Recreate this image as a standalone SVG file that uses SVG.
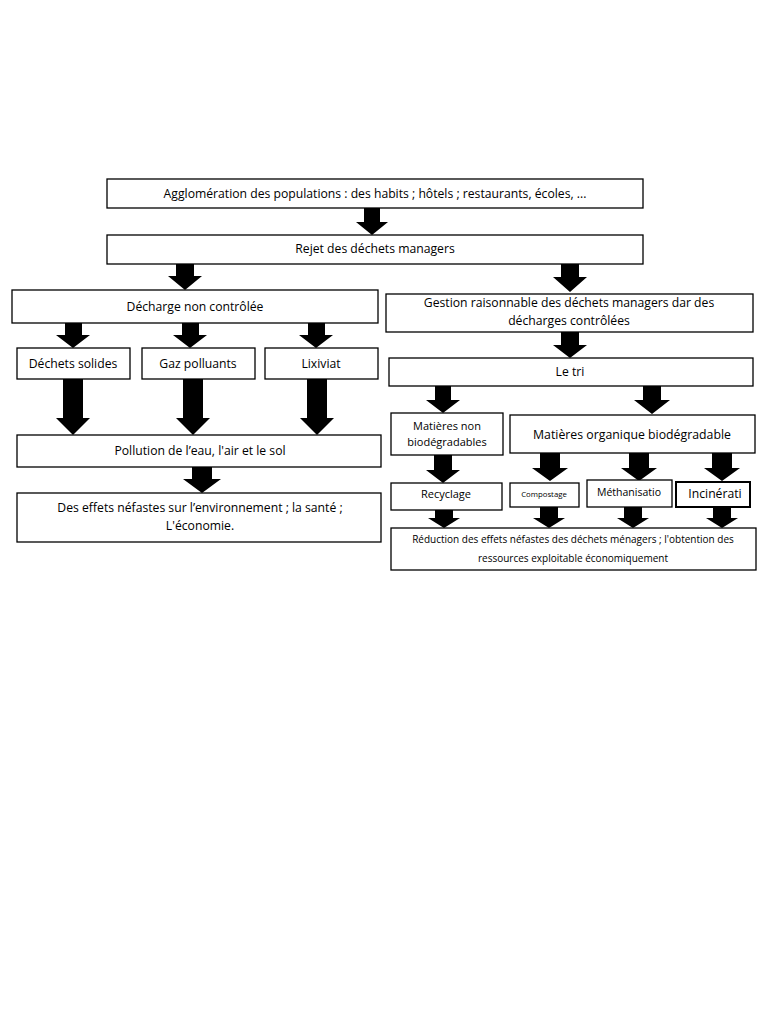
<svg xmlns="http://www.w3.org/2000/svg" width="768" height="1024" viewBox="0 0 768 1024">
<style>
.box{fill:#fff;stroke:#000;stroke-width:1.3}
.thick{stroke-width:2}
.arr{fill:#000;stroke:none}
text{font-family:"Open Sans","Liberation Sans",sans-serif;font-size:12.2px;fill:#000;text-anchor:middle}
</style>
<rect width="768" height="1024" fill="#fff"/>
<g id="connectors">
<polygon class="arr" points="364,208 380,208 380,222 388,222 372,235 356,222 364,222"/>
<polygon class="arr" points="176,264 194,264 194,276 202,276 185,290 168,276 176,276"/>
<polygon class="arr" points="561,264 579,264 579,277 587,277 570,292 553,277 561,277"/>
<polygon class="arr" points="561,332 579,332 579,345 587,345 570,358 553,345 561,345"/>
<polygon class="arr" points="65,323 82,323 82,335 90,335 73,348 56,335 65,335"/>
<polygon class="arr" points="182,323 199,323 199,335 207,335 190,348 173,335 182,335"/>
<polygon class="arr" points="308,323 325,323 325,335 333,335 316,348 299,335 308,335"/>
<polygon class="arr" points="63,378 83,378 83,418 90,418 73,435 56,418 63,418"/>
<polygon class="arr" points="183,378 203,378 203,418 210,418 193,435 176,418 183,418"/>
<polygon class="arr" points="307,378 327,378 327,418 334,418 317,435 300,418 307,418"/>
<polygon class="arr" points="192,467 212,467 212,479 221,479 202,493 183,479 192,479"/>
<polygon class="arr" points="435,386 451,386 451,400 460,400 443,413 426,400 435,400"/>
<polygon class="arr" points="643,386 661,386 661,400 670,400 652,414 634,400 643,400"/>
<polygon class="arr" points="434,455 452,455 452,470 460,470 443,483 426,470 434,470"/>
<polygon class="arr" points="540,453 560,453 560,468 568,468 550,481 532,468 540,468"/>
<polygon class="arr" points="629,453 649,453 649,468 657,468 639,481 621,468 629,468"/>
<polygon class="arr" points="712,453 732,453 732,468 740,468 722,481 704,468 712,468"/>
<polygon class="arr" points="435,509 453,509 453,518 460,518 444,528 428,518 435,518"/>
<polygon class="arr" points="540,507 558,507 558,518 565,518 549,528 533,518 540,518"/>
<polygon class="arr" points="624,507 642,507 642,518 649,518 633,528 617,518 624,518"/>
<polygon class="arr" points="713,507 731,507 731,518 738,518 722,528 706,518 713,518"/>
</g>
<g id="n1"><rect class="box" x="107" y="179" width="536" height="29"/><text x="375" y="198">Agglomération des populations : des habits ; hôtels ; restaurants, écoles, ...</text></g>
<g id="n2"><rect class="box" x="107" y="235" width="536" height="29"/><text x="375" y="253">Rejet des déchets managers</text></g>
<g id="n3"><rect class="box" x="12" y="290" width="366" height="33"/><text x="195" y="311">Décharge non contrôlée</text></g>
<g id="n4"><rect class="box" x="386" y="294" width="367" height="38"/><text x="569" y="307">Gestion raisonnable des déchets managers dar des</text><text x="569" y="325">décharges contrôlées</text></g>
<g id="n5"><rect class="box" x="17" y="348" width="113" height="31"/><text x="73" y="368">Déchets solides</text></g>
<g id="n6"><rect class="box" x="142" y="348" width="113" height="31"/><text x="198" y="368">Gaz polluants</text></g>
<g id="n7"><rect class="box" x="265" y="348" width="113" height="31"/><text x="321" y="368">Lixiviat</text></g>
<g id="n8"><rect class="box" x="389" y="358" width="364" height="28"/><text x="570" y="376">Le tri</text></g>
<g id="n9"><rect class="box" x="17" y="435" width="364" height="32"/><text x="200" y="455">Pollution de l’eau, l'air et le sol</text></g>
<g id="n10"><rect class="box" x="17" y="493" width="364" height="49"/><text x="200" y="512">Des effets néfastes sur l’environnement ; la santé ;</text><text x="200" y="530">L'économie.</text></g>
<g id="n11"><rect class="box" x="391" y="413" width="112" height="42"/><text x="447" y="430" style="font-size:11px">Matières non</text><text x="447" y="446" style="font-size:11px">biodégradables</text></g>
<g id="n12"><rect class="box" x="510" y="415" width="245" height="38"/><text x="632" y="439" style="font-size:12.3px">Matières organique biodégradable</text></g>
<g id="n13"><rect class="box" x="391" y="483" width="111" height="27"/><text x="446" y="498" style="font-size:11px">Recyclage</text></g>
<g id="n14"><rect class="box" x="510" y="483" width="69" height="24"/><text x="544" y="497" style="font-size:7.8px">Compostage</text></g>
<g id="n15"><rect class="box" x="587" y="480" width="85" height="27"/><text x="629" y="496" style="font-size:10.5px">Méthanisatio</text></g>
<g id="n16"><rect class="box thick" x="676" y="482" width="74" height="25"/><text x="715" y="498" style="font-size:12.2px">Incinérati</text></g>
<g id="n17"><rect class="box" x="391" y="528" width="365" height="42"/><text x="573" y="543" style="font-size:10px">Réduction des effets néfastes des déchets ménagers ; l'obtention des</text><text x="573" y="562" style="font-size:10px">ressources exploitable économiquement</text></g>
</svg>
